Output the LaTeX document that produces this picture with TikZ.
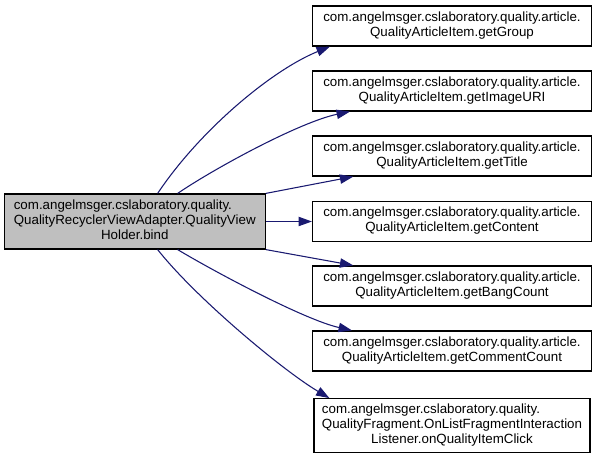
\documentclass[tikz,border=0pt]{standalone}
\usepackage{fontspec}
\setmainfont{Liberation Sans}
\usetikzlibrary{arrows.meta}
\definecolor{edgeblue}{HTML}{191970}
\definecolor{fillgrey}{HTML}{BFBFBF}
\newcommand{\lbltwo}[2]{\begin{tabular}{@{}l@{}}#1\\\multicolumn{1}{@{}c@{}}{#2}\end{tabular}}
\newcommand{\lblthree}[3]{\begin{tabular}{@{}l@{}}#1\\#2\\\multicolumn{1}{@{}c@{}}{#3}\end{tabular}}
\begin{document}
\begin{tikzpicture}[x=0.75pt,y=-0.75pt,
  box/.style={draw=black,line width=0.9pt,fill=white,inner sep=0pt,
    minimum width=209.25pt,minimum height=30pt,
    font=\fontsize{10}{11.25}\selectfont},
  edge/.style={draw=edgeblue,line width=0.8pt,
    -{Triangle[length=10pt,width=7pt]}}]
\useasboundingbox (0,0) rectangle (597,459);
\node[box,fill=fillgrey,minimum width=195.75pt,minimum height=41.25pt] (L) at (134.75,221.5)
  {\lblthree{com.angelmsger.cslaboratory.quality.}{QualityRecyclerViewAdapter.QualityView}{Holder.bind}};
\node[box] (A) at (452,26) {\lbltwo{com.angelmsger.cslaboratory.quality.article.}{QualityArticleItem.getGroup}};
\node[box] (B) at (452,91) {\lbltwo{com.angelmsger.cslaboratory.quality.article.}{QualityArticleItem.getImageURI}};
\node[box] (C) at (452,156) {\lbltwo{com.angelmsger.cslaboratory.quality.article.}{QualityArticleItem.getTitle}};
\node[box] (D) at (452,221.5) {\lbltwo{com.angelmsger.cslaboratory.quality.article.}{QualityArticleItem.getContent}};
\node[box] (E) at (452,286) {\lbltwo{com.angelmsger.cslaboratory.quality.article.}{QualityArticleItem.getBangCount}};
\node[box] (F) at (452,351) {\lbltwo{com.angelmsger.cslaboratory.quality.article.}{QualityArticleItem.getCommentCount}};
\node[box,minimum width=207pt,minimum height=40.5pt] (G) at (452,425.7)
  {\lblthree{com.angelmsger.cslaboratory.quality.}{QualityFragment.OnListFragmentInteraction}{Listener.onQualityItemClick}};
\draw[edge] ([xshift=115.5pt]L.north west) .. controls (200,130) and (272,70) .. ([xshift=13.5pt]A.south west);
\draw[edge] ([xshift=130.5pt]L.north west) .. controls (215,168) and (300,122) .. ([xshift=28.5pt]B.south west);
\draw[edge] (L.north east) -- ([xshift=31pt]C.south west);
\draw[edge] (L.east) -- (D.west);
\draw[edge] (L.south east) -- ([xshift=31pt]E.north west);
\draw[edge] ([xshift=130.5pt]L.south west) .. controls (215,272) and (305,320) .. ([xshift=30pt]F.north west);
\draw[edge] ([xshift=115.5pt]L.south west) .. controls (195,297) and (282,370) .. ([xshift=12pt]G.north west);
\end{tikzpicture}
\end{document}
